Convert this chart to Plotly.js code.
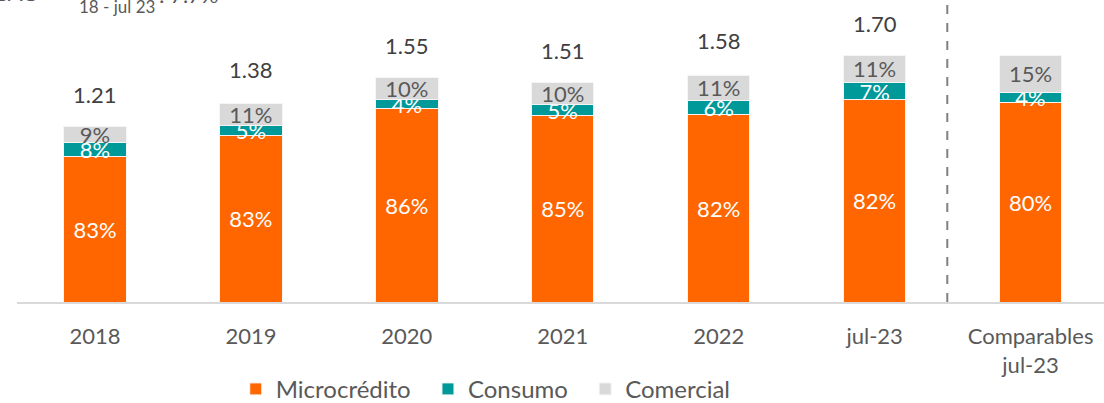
<!DOCTYPE html>
<html>
<head>
<meta charset="utf-8">
<script src="https://cdn.plot.ly/plotly-3.0.1.min.js"></script>
<style>html,body{margin:0;padding:0;background:#fff;}#chart{width:1104px;height:403px;}</style>
</head>
<body>
<div id="chart"></div>
<script>
// Data
const categories = ["2018", "2019", "2020", "2021", "2022", "jul-23", "Comparables<br>jul-23"];
const totals = [1.21, 1.38, 1.55, 1.51, 1.58, 1.70, 1.72];
const totalLabels = ["1.21", "1.38", "1.55", "1.51", "1.58", "1.70", ""];
const microcreditoPct = [83, 83, 86, 85, 82, 82, 80];
const consumoPct = [8, 5, 4, 5, 6, 7, 4];
const comercialPct = [9, 11, 10, 10, 11, 11, 15];

const seg = (pct) => pct.map((p, i) => totals[i] * p / 100);
const lbl = (pct) => pct.map(p => p + "%");

const FONT = "Lato, 'Open Sans', sans-serif";
const NB = "\u00a0\u00a0";
const common = {
  type: "bar",
  x: categories,
  textposition: "inside",
  insidetextanchor: "middle",
  constraintext: "none",
  cliponaxis: false,
  hoverinfo: "skip"
};

const traces = [
  Object.assign({}, common, {
    name: "Microcrédito" + NB,
    y: seg(microcreditoPct),
    text: lbl(microcreditoPct),
    marker: {color: "#FF6600", line: {color: "#F5F5F5", width: 1}},
    textfont: {family: FONT, size: 22, color: "#FFFFFF"}
  }),
  Object.assign({}, common, {
    name: "Consumo" + NB,
    y: seg(consumoPct),
    text: lbl(consumoPct),
    marker: {color: "#009999", line: {color: "#F5F5F5", width: 1}},
    textfont: {family: FONT, size: 22, color: "#FFFFFF"}
  }),
  Object.assign({}, common, {
    name: "Comercial",
    y: seg(comercialPct),
    text: lbl(comercialPct),
    marker: {color: "#D9D9D9", line: {color: "#F5F5F5", width: 1}},
    textfont: {family: FONT, size: 22, color: "#595959"}
  })
];

const annotations = categories.map((c, i) => ({
  x: i, y: totals[i], xref: "x", yref: "y",
  text: totalLabels[i], showarrow: false,
  yanchor: "middle", yshift: 32,
  font: {family: FONT, size: 22, color: "#404040"}
}));

// Partially cropped heading at the top-left
annotations.push(
  {xref: "paper", yref: "paper", x: 0, y: 1, xanchor: "left", yanchor: "bottom",
   xshift: -26, yshift: -8, text: "CAC", showarrow: false,
   font: {family: FONT, size: 22, color: "#595959"}},
  {xref: "paper", yref: "paper", x: 0, y: 1, xanchor: "left", yanchor: "bottom",
   xshift: 60, yshift: -19, text: "18 - jul 23", showarrow: false,
   font: {family: FONT, size: 17, color: "#595959"}},
  {xref: "paper", yref: "paper", x: 0, y: 1, xanchor: "left", yanchor: "bottom",
   xshift: 140, yshift: -10, text: ": 7.7%", showarrow: false,
   font: {family: FONT, size: 22, color: "#595959"}}
);

const layout = {
  width: 1104, height: 403,
  margin: {l: 16.5, r: 0, t: 0, b: 100.5},
  paper_bgcolor: "#FFFFFF", plot_bgcolor: "#FFFFFF",
  barmode: "stack",
  bargap: 0.6,
  showlegend: true,
  legend: {
    orientation: "h",
    xref: "container", yref: "container",
    x: 0.44, xanchor: "center", y: 0.034, yanchor: "middle",
    traceorder: "normal",
    font: {family: FONT, size: 24, color: "#595959"},
    itemclick: false
  },
  xaxis: {
    type: "category",
    automargin: false,
    range: [-0.5, 6.471],
    showline: true, linecolor: "#D9D9D9", linewidth: 2,
    showgrid: false, zeroline: false, ticks: "",
    ticklabelstandoff: 14,
    tickfont: {family: FONT, size: 22, color: "#595959"},
    fixedrange: true
  },
  yaxis: {range: [0, 2.082], visible: false, fixedrange: true, automargin: false},
  shapes: [{
    type: "line", xref: "x", yref: "paper",
    x0: 5.466, x1: 5.466, y0: 0, y1: 1,
    line: {color: "#808080", width: 2, dash: "dash"}
  }],
  annotations: annotations
};

Plotly.newPlot("chart", traces, layout, {displayModeBar: false, staticPlot: true});
</script>
</body>
</html>
